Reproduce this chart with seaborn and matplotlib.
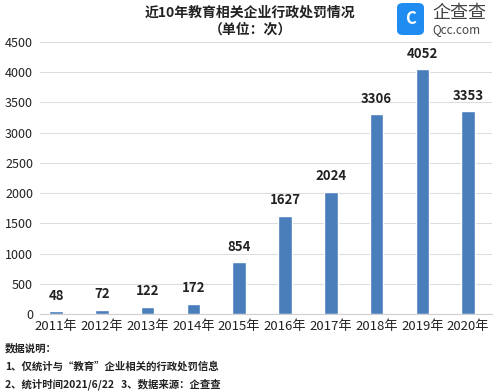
import matplotlib
matplotlib.use('Agg')
import matplotlib.pyplot as plt
import seaborn as sns
import pandas as pd
from matplotlib.patches import FancyBboxPatch

# 数据
years = ['2011年', '2012年', '2013年', '2014年', '2015年',
         '2016年', '2017年', '2018年', '2019年', '2020年']
counts = [48, 72, 122, 172, 854, 1627, 2024, 3306, 4052, 3353]
y_ticks = [0, 500, 1000, 1500, 2000, 2500, 3000, 3500, 4000, 4500]

title = '近10年教育相关企业行政处罚情况'
subtitle = '（单位：次）'
notes = ['数据说明：',
         '1、仅统计与“教育”企业相关的行政处罚信息',
         '2、统计时间2021/6/22   3、数据来源：企查查']

df = pd.DataFrame({'year': years, 'count': counts})

sns.set_style('white')
plt.rcParams['font.family'] = ['Noto Sans CJK SC', 'DejaVu Sans']

fig = plt.figure(figsize=(4.99, 3.91), dpi=100)
ax = fig.add_axes([40 / 499, 1 - 314 / 391, 452 / 499, 272 / 391])

sns.barplot(data=df, x='year', y='count', color='#4a7ebb', width=0.3,
            saturation=1, ax=ax, zorder=3)

for p, v in zip(ax.patches, counts):
    ax.annotate(f'{v}', (p.get_x() + p.get_width() / 2, p.get_height()),
                ha='center', va='bottom', xytext=(0, 6), textcoords='offset points',
                fontsize=9.5, fontweight='bold', color='#222222')

ax.set_ylim(0, 4500)
ax.set_yticks(y_ticks)
ax.set_xlim(-0.35, 9.52)
ax.yaxis.grid(True, color='#dddddd', linewidth=0.8, zorder=0)
for s in ['top', 'right', 'left']:
    ax.spines[s].set_visible(False)
ax.spines['bottom'].set_color('#d0d0d0')
ax.tick_params(axis='both', length=0, colors='#222222')
ax.tick_params(axis='y', pad=5, labelsize=9)
ax.tick_params(axis='x', pad=4, labelsize=9.5)
ax.set_xlabel('')
ax.set_ylabel('')

# 标题
fig.text(250 / 499, 1 - 13 / 391, title, ha='center', va='center',
         fontsize=10, fontweight='bold', color='#222222')
fig.text(250 / 499, 1 - 30 / 391, subtitle, ha='center', va='center',
         fontsize=10, fontweight='bold', color='#222222')

# 标志
logo = FancyBboxPatch((397 / 499, 1 - 35 / 391), 27 / 499, 32 / 391,
                      boxstyle='round,pad=0,rounding_size=0.012',
                      transform=fig.transFigure, facecolor='#1e8cf0',
                      edgecolor='none')
fig.patches.append(logo)
fig.text(410.5 / 499, 1 - 19 / 391, 'C', ha='center', va='center',
         fontsize=12, fontweight='bold', color='white')
fig.text(432 / 499, 1 - 13 / 391, '企查查', ha='left', va='center',
         fontsize=13, color='#444444')
fig.text(432 / 499, 1 - 30 / 391, 'Qcc.com', ha='left', va='center',
         fontsize=8.5, color='#444444')

# 注释
for i, line in enumerate(notes):
    fig.text(5 / 499, 1 - (348 + i * 18) / 391, line, ha='left', va='center',
             fontsize=7.5, fontweight='bold', color='#222222')

fig.savefig('out.png', dpi=100)
